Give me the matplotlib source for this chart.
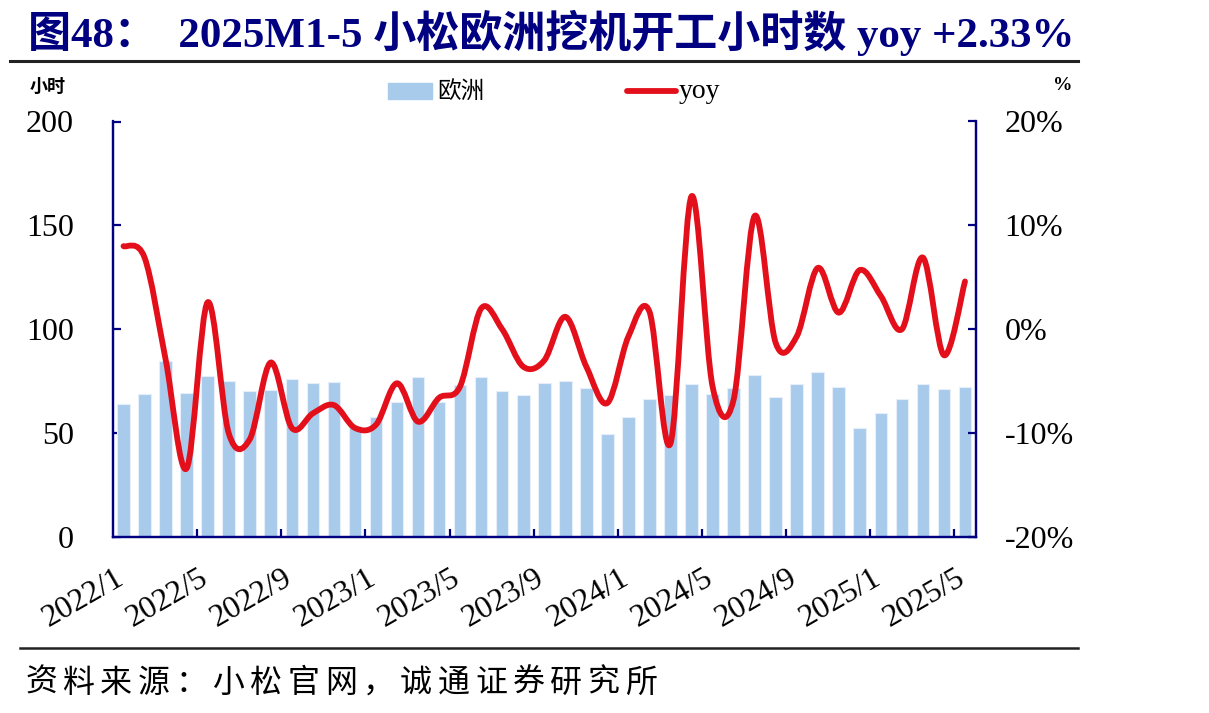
import matplotlib
matplotlib.use("Agg")
import matplotlib.pyplot as plt
from matplotlib.path import Path
from matplotlib.patches import PathPatch, Rectangle
from matplotlib.lines import Line2D

# monthly data, 2022/1 .. 2025/5
months = [f"{y}/{m}" for y in range(2022, 2026) for m in range(1, 13)][:41]
europe_hours = [64, 69, 84.5, 69.5, 77.4, 75.2, 70.2, 70.7, 76.1, 74, 74.5,
                53.5, 57.8, 65, 76.8, 65, 73.4, 76.8, 70.2, 68.4, 74,
                75.2, 71.8, 49.6, 58, 66.3, 68.4, 73.6, 69, 71.8, 78,
                67.5, 73.6, 79.5, 72.3, 52.5, 59.8, 66.3, 73.6, 71.3, 72.3]
yoy_pct = [8.0, 6.9, -2.9, -13.4, 2.6, -10.0, -10.6, -3.2, -9.5, -8.1, -7.3,
           -9.5, -9.2, -5.2, -8.9, -6.6, -5.5, 2.0, 0.0, -3.6, -3.0,
           1.2, -3.6, -7.1, -0.7, 1.7, -11.0, 12.8, -5.5, -6.8, 10.9,
           -1.3, -0.7, 5.9, 1.6, 5.7, 3.2, 0.0, 6.9, -2.5, 4.6]
label_months = months[::4]

W, H = 1209, 713
NAVY = "#000080"
RED = "#E3101C"
BLUE = "#A8CBEC"
LATIN = ["Liberation Serif", "Noto Sans CJK SC"]
CJK = ["Noto Sans CJK SC", "Liberation Serif"]


def fx(px):
    return px / W


def fy(py):
    return 1 - py / H


# smooth curve through the points (Excel-style smoothed line)
def smooth_path(xs, ys):
    n = len(xs)
    verts = [(xs[0], ys[0])]
    codes = [Path.MOVETO]
    for i in range(n - 1):
        a = i - 1 if i > 0 else i
        d = i + 2 if i + 2 < n else i + 1
        c1 = (xs[i] + (xs[i + 1] - xs[a]) / 6, ys[i] + (ys[i + 1] - ys[a]) / 6)
        c2 = (xs[i + 1] - (xs[d] - xs[i]) / 6, ys[i + 1] - (ys[d] - ys[i]) / 6)
        verts += [c1, c2, (xs[i + 1], ys[i + 1])]
        codes += [Path.CURVE4] * 3
    return Path(verts, codes)


fig = plt.figure(figsize=(W / 100, H / 100), dpi=100)
ax = fig.add_axes([fx(113), fy(537), fx(975.5) - fx(113), fy(121.5) - fy(537)])
ax2 = ax.twinx()

xs = list(range(len(months)))
ax.bar(xs, europe_hours, width=0.6, color=BLUE, edgecolor="#E6EFF9", linewidth=0.8, zorder=2)
ax.set_xlim(-0.5, len(months) - 0.5)
ax.set_ylim(0, 200)
ax.set_yticks([0, 50, 100, 150, 200])

ax2.add_patch(PathPatch(smooth_path(xs, yoy_pct), fill=False, edgecolor=RED,
                        linewidth=4.2, capstyle="round", joinstyle="round", zorder=3))
ax2.set_ylim(-20, 20)
ax2.set_yticks([-20, -10, 0, 10, 20])
ax2.set_yticklabels([f"{v}%" for v in [-20, -10, 0, 10, 20]])

for a in (ax, ax2):
    a.spines["top"].set_visible(False)
    for s in ("left", "right", "bottom"):
        a.spines[s].set_color(NAVY)
        a.spines[s].set_linewidth(1.6)
ax.set_zorder(1)
ax2.set_zorder(2)
ax2.patch.set_visible(False)

ax.tick_params(axis="y", direction="in", length=6, width=1.6, color=NAVY, pad=28,
               labelsize=23)
ax2.tick_params(axis="y", direction="in", length=6, width=1.6, color=NAVY, pad=21,
                labelsize=23)
for lab in ax.get_yticklabels() + ax2.get_yticklabels():
    lab.set_family(LATIN)

# x ticks on category boundaries every 4 months, labels at category centers
ax.set_xticks([i + 3.5 for i in range(0, len(months) - 4, 4)])
ax.tick_params(axis="x", direction="in", length=6, width=1.6, color=NAVY, labelbottom=False)
for i, lab in zip(range(0, len(months), 4), label_months):
    ax.text(i - 0.1, -0.095, lab, transform=ax.get_xaxis_transform(), ha="right", va="center",
            rotation=30, rotation_mode="anchor", fontsize=23, family=LATIN)

# title and rules
fig.text(fx(28), fy(33), "图48：  2025M1-5 小松欧洲挖机开工小时数 yoy +2.33%",
         fontsize=31, fontweight="bold", color=NAVY, family=LATIN, va="center", ha="left")
fig.add_artist(Line2D([fx(10), fx(1078)], [fy(61), fy(61)], color="#222222", linewidth=2.2))
fig.add_artist(Line2D([fx(20), fx(1078)], [fy(648), fy(648)], color="#222222", linewidth=1.8))

fig.text(fx(48), fy(86), "小时", fontsize=13, fontweight="bold", family=CJK, ha="center", va="center")
fig.text(fx(1063), fy(86), "%", fontsize=14, fontweight="bold", family=LATIN, ha="center", va="center")

# legend
fig.add_artist(Rectangle((fx(388), fy(99)), fx(432) - fx(388), fy(83) - fy(99), color=BLUE,
                         transform=fig.transFigure))
fig.text(fx(437), fy(91), "欧洲", fontsize=17, family=CJK, ha="left", va="center")
fig.add_artist(Line2D([fx(627), fx(676)], [fy(91), fy(91)], color=RED, linewidth=4.2,
                      solid_capstyle="round"))
fig.text(fx(679), fy(91), "yoy", fontsize=20, family=LATIN, ha="left", va="center")

# source note
source = "资料来源：小松官网，诚通证券研究所"
for k, ch in enumerate(source):
    fig.text(fx(25 + k * 37.5), fy(683), ch, fontsize=23, family=CJK, ha="left", va="center")

fig.savefig("out.png", dpi=100)
